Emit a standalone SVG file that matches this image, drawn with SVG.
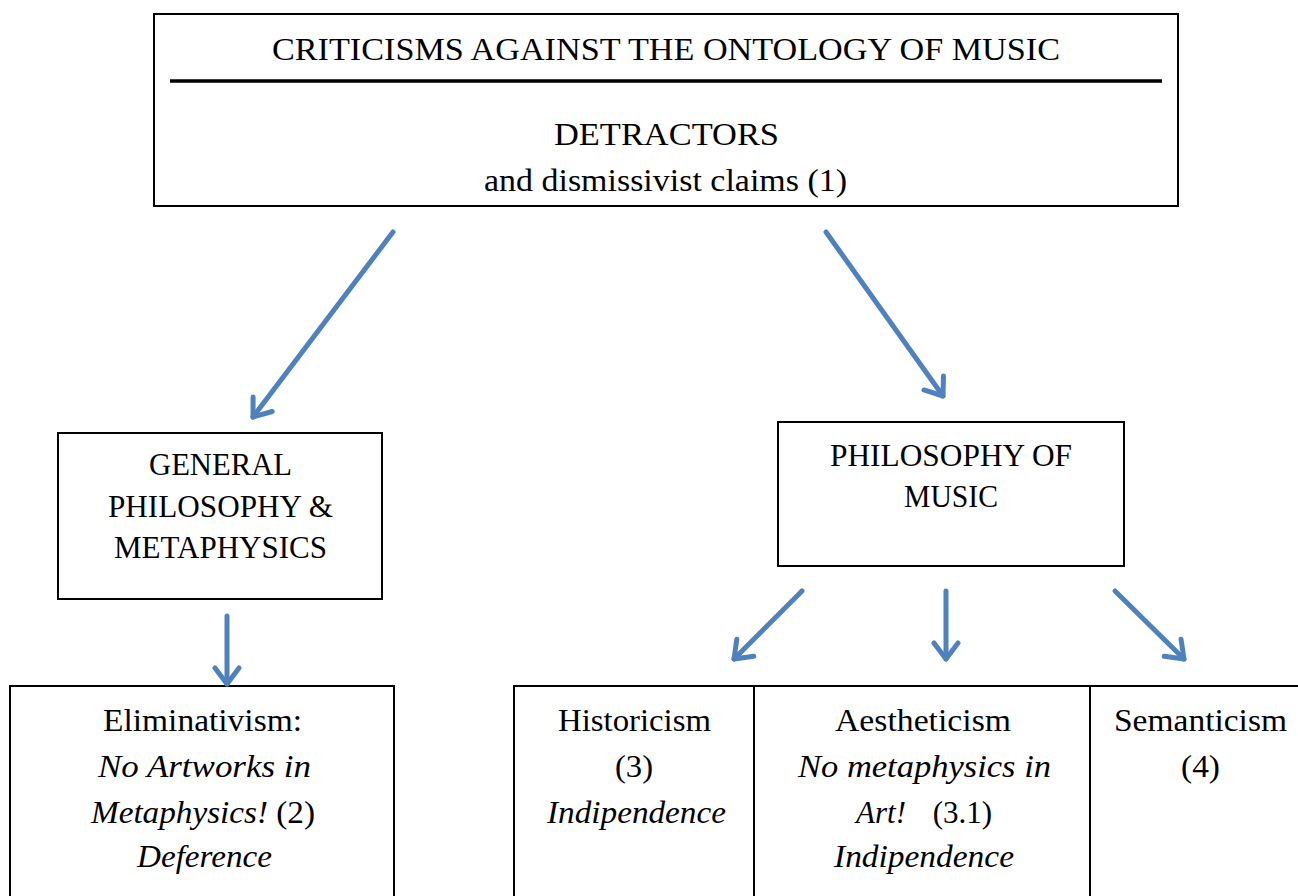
<svg xmlns="http://www.w3.org/2000/svg" width="1298" height="896" viewBox="0 0 1298 896">
<style>
.box{fill:#fff;stroke:#000;stroke-width:2}
.t{font-family:"Liberation Serif","DejaVu Serif",serif;font-size:31px;fill:#000;text-anchor:middle}
.i{font-style:italic}
.c{stroke:#4F81BD;stroke-width:5;fill:none;stroke-linecap:round}
</style>
<defs>
<marker id="ah" viewBox="0 0 30 30" markerWidth="30" markerHeight="30" refX="24" refY="15" orient="auto" markerUnits="userSpaceOnUse">
<path d="M8,3 L24,15 L8,27" fill="none" stroke="#4F81BD" stroke-width="5" stroke-linecap="round" stroke-linejoin="round"/>
</marker>
</defs>
<rect width="1298" height="896" fill="#fff"/>
<g id="top">
<rect class="box" x="154" y="14" width="1024" height="192"/>
<line x1="170" y1="81" x2="1162" y2="81" stroke="#000" stroke-width="3.5"/>
<text class="t" x="666" y="60" textLength="788" lengthAdjust="spacingAndGlyphs">CRITICISMS AGAINST THE ONTOLOGY OF MUSIC</text>
<text class="t" x="666.5" y="145" textLength="225" lengthAdjust="spacingAndGlyphs">DETRACTORS</text>
<text class="t" x="665.5" y="191" textLength="363" lengthAdjust="spacingAndGlyphs">and dismissivist claims (1)</text>
</g>
<g id="general">
<rect class="box" x="58" y="433" width="324" height="166"/>
<text class="t" x="220.5" y="475" textLength="143" lengthAdjust="spacingAndGlyphs">GENERAL</text>
<text class="t" x="220.5" y="517" textLength="225" lengthAdjust="spacingAndGlyphs">PHILOSOPHY &amp;</text>
<text class="t" x="220.5" y="558" textLength="213" lengthAdjust="spacingAndGlyphs">METAPHYSICS</text>
</g>
<g id="music">
<rect class="box" x="778" y="422" width="346" height="144"/>
<text class="t" x="951" y="466" textLength="242" lengthAdjust="spacingAndGlyphs">PHILOSOPHY OF</text>
<text class="t" x="951" y="507" textLength="94" lengthAdjust="spacingAndGlyphs">MUSIC</text>
</g>
<g id="elim">
<rect class="box" x="10" y="686" width="384" height="220"/>
<text class="t" x="202.5" y="731" textLength="199" lengthAdjust="spacingAndGlyphs">Eliminativism:</text>
<text class="t i" x="204.5" y="777" textLength="213" lengthAdjust="spacingAndGlyphs">No Artworks in</text>
<text class="t" x="203" y="823" textLength="224" lengthAdjust="spacingAndGlyphs"><tspan class="i">Metaphysics!</tspan> (2)</text>
<text class="t i" x="204.5" y="867" textLength="135" lengthAdjust="spacingAndGlyphs">Deference</text>
</g>
<g id="hist">
<rect class="box" x="514" y="686" width="240" height="220"/>
<text class="t" x="634.5" y="731" textLength="153" lengthAdjust="spacingAndGlyphs">Historicism</text>
<text class="t" x="634" y="777" textLength="38" lengthAdjust="spacingAndGlyphs">(3)</text>
<text class="t i" x="636.5" y="823" textLength="179" lengthAdjust="spacingAndGlyphs">Indipendence</text>
</g>
<g id="aest">
<rect class="box" x="754" y="686" width="336" height="220"/>
<text class="t" x="923" y="731" textLength="176" lengthAdjust="spacingAndGlyphs">Aestheticism</text>
<text class="t i" x="924.5" y="777" textLength="253" lengthAdjust="spacingAndGlyphs">No metaphysics in</text>
<text class="t" y="823"><tspan class="i" x="881">Art!</tspan><tspan x="962.5">(3.1)</tspan></text>
<text class="t i" x="924" y="867" textLength="180" lengthAdjust="spacingAndGlyphs">Indipendence</text>
</g>
<g id="sem">
<rect class="box" x="1090" y="686" width="220" height="220"/>
<text class="t" x="1200.5" y="731" textLength="173" lengthAdjust="spacingAndGlyphs">Semanticism</text>
<text class="t" x="1200.5" y="777" textLength="39" lengthAdjust="spacingAndGlyphs">(4)</text>
</g>
<g id="connectors">
<line class="c" x1="393" y1="232" x2="253" y2="417" marker-end="url(#ah)"/>
<line class="c" x1="826" y1="232" x2="943" y2="396" marker-end="url(#ah)"/>
<line class="c" x1="227" y1="616" x2="227" y2="684" marker-end="url(#ah)"/>
<line class="c" x1="802" y1="591" x2="734" y2="659" marker-end="url(#ah)"/>
<line class="c" x1="946" y1="591" x2="946" y2="659" marker-end="url(#ah)"/>
<line class="c" x1="1115" y1="591" x2="1184" y2="659" marker-end="url(#ah)"/>
</g>
</svg>
